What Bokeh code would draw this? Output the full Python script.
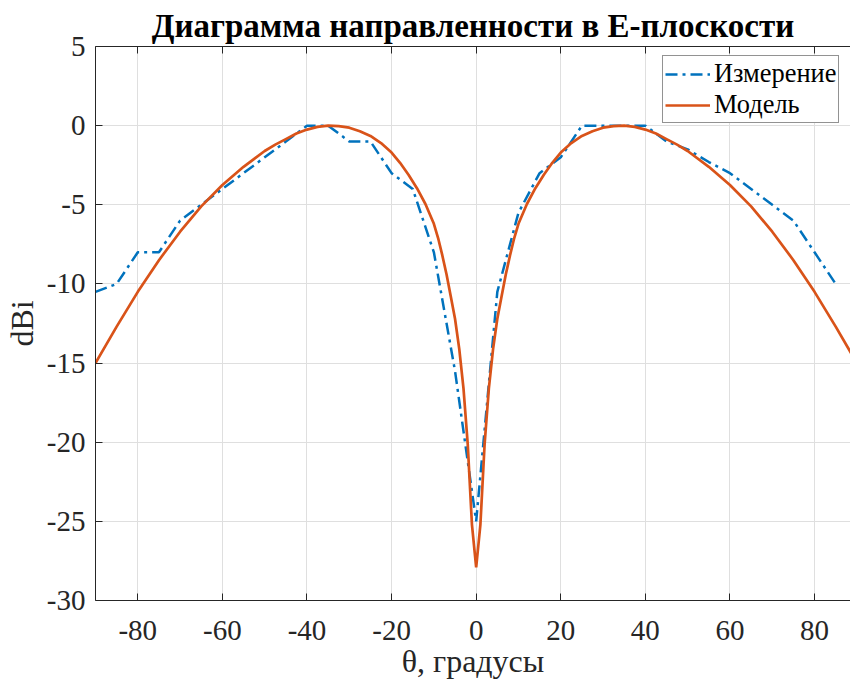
from bokeh.plotting import figure
from bokeh.models import Range1d, LinearAxis, FixedTicker, Legend
from bokeh.embed import file_html
from bokeh.resources import INLINE

# ---- data ----
measured_theta = [-90, -85, -80, -75, -70, -65, -60, -55, -50, -45, -40, -35,
                  -30, -25, -20, -15, -10, -5, 0, 5, 10, 15, 20, 25,
                  30, 35, 40, 45, 50, 55, 60, 65, 70, 75, 80, 85]
measured_dbi = [-10.5, -10, -8, -8, -6, -5, -4, -3, -2, -1, 0, 0,
                -1, -1, -3, -4, -8, -15.5, -25, -10.5, -5.5, -3, -2, 0,
                0, 0, 0, -1, -1.5, -2.3, -3, -4, -5, -6, -8, -10]

model_theta = [-90, -85, -80, -75, -70, -65, -60, -55, -50, -47.5, -45, -42.5, -40,
               -37.5, -35, -32.5, -30, -27.5, -25, -22.5, -20, -18, -16, -14, -12,
               -10, -9, -8, -7, -6, -5, -4, -3, -2, -1, 0,
               1, 2, 3, 4, 5, 6, 7, 8, 9, 10,
               12, 14, 16, 18, 20, 22.5, 25, 27.5, 30, 32.5, 35, 37.5,
               40, 42.5, 45, 47.5, 50, 55, 60, 65, 70, 75, 80, 85, 90]
model_dbi = [-15.0, -12.7, -10.5, -8.5, -6.7, -5.1, -3.75, -2.6, -1.6, -1.2, -0.85, -0.5, -0.25,
             -0.08, 0.0, -0.03, -0.13, -0.35, -0.65, -1.1, -1.7, -2.35, -3.1, -3.95, -4.95,
             -6.2, -7.1, -8.2, -9.4, -10.8, -12.2, -14.1, -16.6, -20.1, -25.2, -27.9,
             -25.2, -20.1, -16.6, -14.1, -12.2, -10.8, -9.4, -8.2, -7.1, -6.2,
             -4.95, -3.95, -3.1, -2.35, -1.7, -1.1, -0.65, -0.35, -0.13, -0.03, 0.0, -0.08,
             -0.25, -0.5, -0.85, -1.2, -1.6, -2.6, -3.75, -5.1, -6.7, -8.5, -10.5, -12.7, -15.0]

x_ticks = [-80, -60, -40, -20, 0, 20, 40, 60, 80]
x_tick_labels = ["-80", "-60", "-40", "-20", "0", "20", "40", "60", "80"]
y_ticks = [-30, -25, -20, -15, -10, -5, 0, 5]
y_tick_labels = ["-30", "-25", "-20", "-15", "-10", "-5", "0", "5"]

title_text = "Диаграмма направленности в E-плоскости"
x_label = "θ, градусы"
y_label = "dBi"
series_names = ["Измерение", "Модель"]

# ---- styling ----
SERIF = "Liberation Serif"
AX = "#262626"
BLUE = "#0072BD"
ORANGE = "#D95319"

p = figure(width=850, height=684, output_backend="svg", toolbar_location=None,
           x_range=Range1d(-90, 88.5), y_range=Range1d(-30, 5),
           min_border_left=95, min_border_right=0, min_border_top=46,
           min_border_bottom=84)
p.background_fill_color = "white"
p.border_fill_color = "white"
p.outline_line_color = None

p.title.text = title_text
p.title.text_font = SERIF
p.title.text_font_size = "33px"
p.title.text_font_style = "bold"
p.title.text_color = "black"
p.title.align = "center"
p.title.standoff = 5

def style_axis(ax, ticks, labels):
    ax.ticker = FixedTicker(ticks=ticks)
    ax.major_label_overrides = dict(zip(ticks, labels))
    ax.major_tick_in = 7
    ax.major_tick_out = 0
    ax.minor_tick_in = 0
    ax.minor_tick_out = 0
    ax.axis_line_color = AX
    ax.axis_line_width = 1
    ax.major_tick_line_color = AX
    ax.major_label_text_font = SERIF
    ax.major_label_text_font_size = "29px"
    ax.major_label_text_color = AX
    ax.axis_label_text_font = SERIF
    ax.axis_label_text_font_size = "32px"
    ax.axis_label_text_font_style = "normal"
    ax.axis_label_text_color = AX

xa = p.xaxis[0]
ya = p.yaxis[0]
style_axis(xa, x_ticks, x_tick_labels)
style_axis(ya, y_ticks, y_tick_labels)
xa.axis_label = x_label
ya.axis_label = y_label
xa.major_label_standoff = 20
xa.axis_label_standoff = 0
ya.major_label_standoff = 10
ya.axis_label_standoff = 4

# top border with inward ticks (no labels drawn)
top_axis = LinearAxis(ticker=FixedTicker(ticks=x_ticks),
                      major_label_text_font_size="1px", major_label_text_color=None,
                      major_label_standoff=0,
                      major_tick_in=7, major_tick_out=0,
                      minor_tick_in=0, minor_tick_out=0,
                      axis_line_color=AX, major_tick_line_color=AX)
p.add_layout(top_axis, "above")

p.xgrid.ticker = FixedTicker(ticks=x_ticks)
p.ygrid.ticker = FixedTicker(ticks=y_ticks)
for g in (p.xgrid, p.ygrid):
    g.grid_line_color = "#dfdfdf"
    g.grid_line_width = 1

r1 = p.line(measured_theta, measured_dbi, line_color=BLUE, line_width=2.5,
            line_dash="12 5 3 5")
r2 = p.line(model_theta, model_dbi, line_color=ORANGE, line_width=2.7)

legend = Legend(items=[(series_names[0], [r1]), (series_names[1], [r2])],
                location=(567, 477), margin=0, padding=2, spacing=-2,
                glyph_width=45, glyph_height=26, label_height=26,
                label_standoff=4, label_text_font=SERIF,
                label_text_font_size="26.4px", label_text_color="black",
                border_line_color=AX, border_line_width=1,
                background_fill_color="white", background_fill_alpha=1)
p.add_layout(legend)

open("out.html", "w").write(file_html(p, INLINE))
